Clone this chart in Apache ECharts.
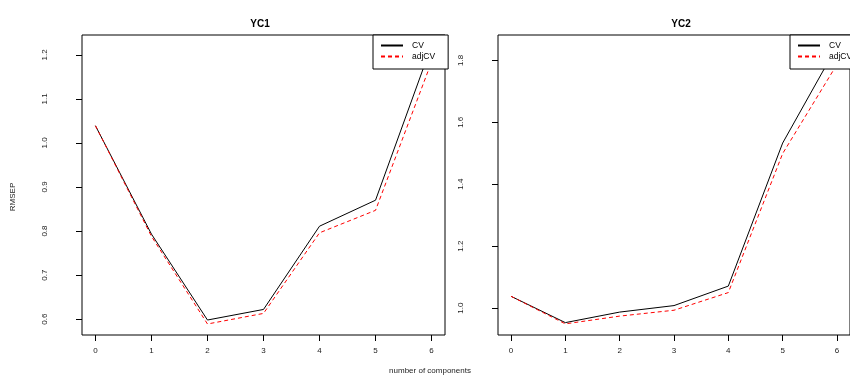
<!DOCTYPE html>
<html>
<head>
<meta charset="utf-8">
<script src="https://cdn.jsdelivr.net/npm/echarts@6/dist/echarts.min.js"></script>
<style>html,body{margin:0;padding:0;background:#fff}#c{width:850px;height:376px}</style>
</head>
<body>
<div id="c"></div>
<script>
const components = [0, 1, 2, 3, 4, 5, 6];
const cvYC1 = [1.039, 0.793, 0.598, 0.622, 0.811, 0.870, 1.221];
const adjCvYC1 = [1.039, 0.788, 0.589, 0.613, 0.796, 0.847, 1.184];
const cvYC2 = [1.038, 0.953, 0.987, 1.008, 1.071, 1.533, 1.846];
const adjCvYC2 = [1.038, 0.949, 0.974, 0.993, 1.050, 1.499, 1.787];
const yTicksYC1 = [0.6, 0.7, 0.8, 0.9, 1.0, 1.1, 1.2];
const yTicksYC2 = [1.0, 1.2, 1.4, 1.6, 1.8];
const xTicks = [0, 1, 2, 3, 4, 5, 6];

const FONT = 'Liberation Sans';
const pairs = (vals) => components.map((c, i) => [c, vals[i]]);

function xAxis(gi) {
  return {
    type: 'value', gridIndex: gi, min: -0.24, max: 6.24,
    axisLine: { show: false },
    splitLine: { show: false },
    axisTick: { show: true, length: 6, lineStyle: { color: '#000', width: 1 }, customValues: xTicks },
    axisLabel: { fontFamily: FONT, fontSize: 8, color: '#222', margin: 12, customValues: xTicks,
      formatter: v => String(v) }
  };
}
function yAxis(gi, min, max, ticks) {
  return {
    type: 'value', gridIndex: gi, min: min, max: max,
    axisLine: { show: false, onZero: false },
    splitLine: { show: false },
    axisTick: { show: true, length: 6, lineStyle: { color: '#000', width: 1 }, customValues: ticks },
    axisLabel: { fontFamily: FONT, fontSize: 8, color: '#222', rotate: 90, margin: 33, customValues: ticks,
      formatter: v => v.toFixed(1) }
  };
}
function legend(left) {
  return {
    left: left, top: 35, orient: 'vertical',
    data: ['CV', 'adjCV'],
    itemWidth: 22, itemHeight: 8, itemGap: 2,
    padding: [6, 13, 8, 7],
    borderColor: '#000', borderWidth: 1, backgroundColor: '#fff',
    itemStyle: { color: 'rgba(0,0,0,0)', borderColor: 'rgba(0,0,0,0)', borderWidth: 0, opacity: 0 },
    textStyle: { fontFamily: FONT, fontSize: 8.5, color: '#000', padding: [0, 0, 0, 4] },
    selectedMode: false
  };
}
function line(name, gi, vals, dashed) {
  return {
    name: name, type: 'line', xAxisIndex: gi, yAxisIndex: gi,
    data: pairs(vals), symbol: 'none', showSymbol: false, animation: false,
    lineStyle: { color: dashed ? '#ff0000' : '#000', width: 1, type: dashed ? [4, 3] : 'solid' },
    itemStyle: { color: dashed ? '#ff0000' : '#000' },
    z: dashed ? 3 : 2
  };
}

const chart = echarts.init(document.getElementById('c'), null, { renderer: 'canvas' });
chart.setOption({
  animation: false,
  backgroundColor: '#fff',
  title: [
    { text: 'YC1', left: 255, top: 14, textAlign: 'center',
      textStyle: { fontFamily: FONT, fontSize: 10, fontWeight: 'bold', color: '#000' } },
    { text: 'YC2', left: 676, top: 14, textAlign: 'center',
      textStyle: { fontFamily: FONT, fontSize: 10, fontWeight: 'bold', color: '#000' } }
  ],
  grid: [
    { left: 82, top: 35, width: 363, height: 300, show: true, borderColor: '#000', borderWidth: 1, backgroundColor: 'transparent' },
    { left: 498, top: 35, width: 364, height: 300, show: true, borderColor: '#000', borderWidth: 1, backgroundColor: 'transparent' }
  ],
  xAxis: [xAxis(0), xAxis(1)],
  yAxis: [yAxis(0, 0.564, 1.245, yTicksYC1), yAxis(1, 0.913, 1.882, yTicksYC2)],
  legend: [legend(373), legend(790)],
  series: [
    line('CV', 0, cvYC1, false),
    line('adjCV', 0, adjCvYC1, true),
    line('CV', 1, cvYC2, false),
    line('adjCV', 1, adjCvYC2, true)
  ],
  graphic: [
    { type: 'text', rotation: Math.PI / 2, x: 12.5, y: 197,
      style: { text: 'RMSEP', font: '8px "Liberation Sans"', fill: '#222', textAlign: 'center', textVerticalAlign: 'middle' } },
    { type: 'text', x: 430, y: 371,
      style: { text: 'number of components', font: '8px "Liberation Sans"', fill: '#222', textAlign: 'center', textVerticalAlign: 'middle' } }
  ]
});
</script>
</body>
</html>
